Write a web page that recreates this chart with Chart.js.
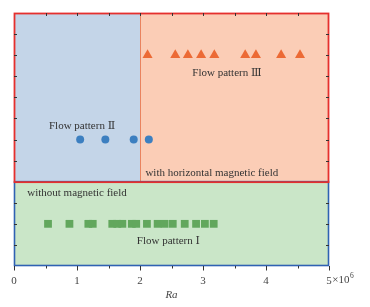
<!DOCTYPE html>
<html>
<head>
<meta charset="utf-8">
<script src="https://cdn.jsdelivr.net/npm/chart.js@4/dist/chart.umd.min.js"></script>
<style>
html,body{margin:0;padding:0;background:#fff;}
#wrap{width:370px;height:307px;position:relative;}
</style>
</head>
<body>
<div id="wrap"><canvas id="c" width="370" height="307"></canvas></div>
<script>
// ---- data ----
const pattern1X = [0.54, 0.88, 1.18, 1.25, 1.56, 1.64, 1.72, 1.87, 1.94, 2.11, 2.28, 2.39, 2.52, 2.71, 2.89, 3.03, 3.17];
const pattern1Y = 2;
const pattern2X = [1.05, 1.45, 1.90, 2.14];
const pattern2Y = 6;
const pattern3X = [2.12, 2.56, 2.76, 2.97, 3.18, 3.67, 3.84, 4.24, 4.54];
const pattern3Y = 10;
const xTickValues = [0, 0.5, 1, 1.5, 2, 2.5, 3, 3.5, 4, 4.5, 5];
const xTickLabels = ['0', '', '1', '', '2', '', '3', '', '4', '', '5'];
const xExponentLabel = ['×10', '6'];
const yTickValues = [0, 1, 2, 3, 4, 5, 6, 7, 8, 9, 10, 11, 12];
const xTitle = 'Ra';
// regions: [x0, x1, y0, y1]
const regionMagneticII = [0, 2, 4, 12];
const regionMagneticIII = [2, 5, 4, 12];
const regionNoField = [0, 5, 0, 4];
const labelTexts = ['Flow pattern Ⅱ', 'Flow pattern Ⅲ', 'with horizontal magnetic field', 'without magnetic field', 'Flow pattern Ⅰ'];
const labelAnchors = [[1.08, 6.64], [3.38, 9.16], [3.14, 4.41], [1.0, 3.46], [2.45, 1.19]];

const SERIF = '"Liberation Serif", "Times New Roman", "DejaVu Serif", serif';

const toPts = (xs, y) => xs.map(x => ({x: x, y: y}));

const bgPlugin = {
  id: 'bg',
  beforeDatasetsDraw(chart) {
    const {ctx, scales: {x, y}} = chart;
    const rect = (r) => {
      const l = x.getPixelForValue(r[0]), rr = x.getPixelForValue(r[1]);
      const t = y.getPixelForValue(r[3]), b = y.getPixelForValue(r[2]);
      return [l, t, rr - l, b - t];
    };
    ctx.save();
    ctx.fillStyle = '#c4d5e8';
    ctx.fillRect(...rect(regionMagneticII));
    ctx.fillStyle = '#fbcdb6';
    ctx.fillRect(...rect(regionMagneticIII));
    ctx.fillStyle = '#cae6c8';
    ctx.fillRect(...rect(regionNoField));
    // divider between II and III
    ctx.strokeStyle = '#e9835f';
    ctx.lineWidth = 1;
    const dx = Math.round(x.getPixelForValue(regionMagneticIII[0])) + 0.5;
    ctx.beginPath();
    ctx.moveTo(dx, y.getPixelForValue(regionMagneticIII[3]));
    ctx.lineTo(dx, y.getPixelForValue(regionMagneticIII[2]));
    ctx.stroke();
    // blue border (lower box)
    let r = rect(regionNoField);
    ctx.strokeStyle = '#2f62b3';
    ctx.lineWidth = 1.6;
    ctx.strokeRect(r[0] + 0.5, r[1], r[2] - 1, r[3] - 0.5);
    // red border (upper box)
    const l = x.getPixelForValue(0), rr = x.getPixelForValue(5);
    const t = y.getPixelForValue(12), b = y.getPixelForValue(4);
    ctx.strokeStyle = '#e5302e';
    ctx.lineWidth = 1.8;
    ctx.strokeRect(l + 0.5, t + 0.5, rr - l - 1, b - t);
    ctx.restore();
  },
  afterDatasetsDraw(chart) {
    const {ctx, scales: {x, y}} = chart;
    ctx.save();
    // ticks
    ctx.strokeStyle = '#333';
    ctx.lineWidth = 1;
    const top = y.getPixelForValue(12), bot = y.getPixelForValue(0);
    const left = x.getPixelForValue(0), right = x.getPixelForValue(5);
    xTickValues.forEach((v, i) => {
      const px = Math.round(x.getPixelForValue(v)) + 0.5;
      const major = xTickLabels[i] !== '';
      ctx.beginPath();
      ctx.moveTo(px, bot);
      ctx.lineTo(px, bot + (major ? 4.5 : 2.5));
      if (v > 0 && v < 5) {
        ctx.moveTo(px, top);
        ctx.lineTo(px, top + 3);
      }
      ctx.stroke();
    });
    yTickValues.forEach(v => {
      if (v <= 0 || v >= 12 || v === 4) return;
      const py = Math.round(y.getPixelForValue(v)) + 0.5;
      ctx.beginPath();
      ctx.moveTo(left, py);
      ctx.lineTo(left + 3, py);
      ctx.moveTo(right, py);
      ctx.lineTo(right - 3, py);
      ctx.stroke();
    });
    // exponent on last x label
    ctx.fillStyle = '#444';
    ctx.font = '11px ' + SERIF;
    ctx.textBaseline = 'middle';
    ctx.textAlign = 'left';
    const fiveW = ctx.measureText(xTickLabels[xTickLabels.length - 1]).width;
    const ex = x.getPixelForValue(5) + fiveW / 2 + 0.5;
    const ey = 280.5;
    ctx.fillText(xExponentLabel[0], ex, ey);
    const w10 = ctx.measureText(xExponentLabel[0]).width;
    ctx.font = '7.5px ' + SERIF;
    ctx.fillText(xExponentLabel[1], ex + w10 + 0.5, ey - 4);
    // annotations
    ctx.font = '11px ' + SERIF;
    ctx.fillStyle = '#333';
    ctx.textAlign = 'center';
    labelTexts.forEach((s, i) => {
      const a = labelAnchors[i];
      ctx.fillText(s, x.getPixelForValue(a[0]), y.getPixelForValue(a[1]));
    });
    ctx.restore();
  }
};

new Chart(document.getElementById('c'), {
  type: 'scatter',
  data: {
    datasets: [
      {label: 'Flow pattern I', data: toPts(pattern1X, pattern1Y), pointStyle: 'rect', pointRadius: 5.5, backgroundColor: '#62a75d', borderWidth: 0},
      {label: 'Flow pattern II', data: toPts(pattern2X, pattern2Y), pointStyle: 'circle', pointRadius: 4, backgroundColor: '#3c7fc0', borderWidth: 0},
      {label: 'Flow pattern III', data: toPts(pattern3X, pattern3Y), pointStyle: 'triangle', pointRadius: 5.8, backgroundColor: '#ec6a35', borderWidth: 0}
    ]
  },
  options: {
    responsive: false,
    animation: false,
    devicePixelRatio: 1,
    layout: {padding: {left: 14, top: 13, right: 41, bottom: 0}},
    plugins: {legend: {display: false}, tooltip: {enabled: false}},
    elements: {point: {hoverRadius: 0}},
    scales: {
      x: {
        type: 'linear', min: 0, max: 5,
        afterBuildTicks: (s) => { s.ticks = xTickValues.map(v => ({value: v})); },
        afterFit: (s) => { s.height = 41; },
        grid: {display: false},
        border: {display: false},
        ticks: {
          autoSkip: false, maxRotation: 0, padding: 1,
          color: '#444', font: {family: SERIF, size: 11},
          callback: (v) => { const i = xTickValues.indexOf(v); return i >= 0 ? xTickLabels[i] : ''; }
        },
        title: {display: true, text: xTitle, color: '#444', font: {family: SERIF, size: 11, style: 'italic'}, padding: {top: 0, bottom: 5}}
      },
      y: {
        type: 'linear', min: 0, max: 12, display: false,
        afterBuildTicks: (s) => { s.ticks = yTickValues.map(v => ({value: v})); }
      }
    }
  },
  plugins: [bgPlugin]
});
</script>
</body>
</html>
